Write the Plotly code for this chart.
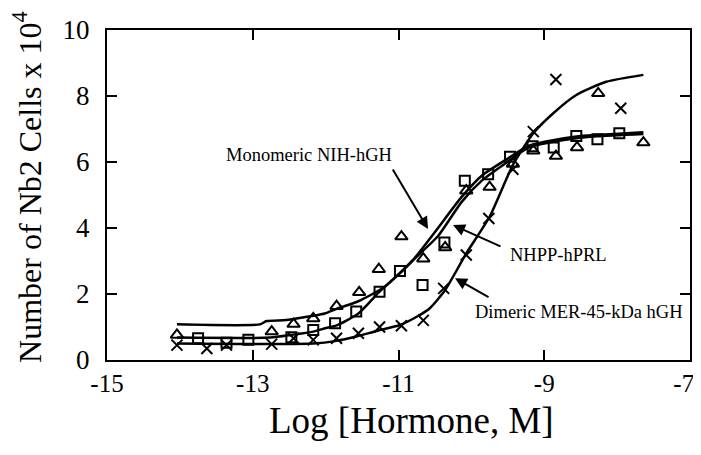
import plotly.graph_objects as go

# measured points (log M, cells x 1e4)
mono_x = [-14.04, -12.74, -12.44, -12.17, -11.85, -11.54, -11.27, -10.96, -10.66, -10.36,
          -10.07, -9.75, -9.43, -9.15, -8.84, -8.55, -8.26, -7.64]
mono_y = [0.76, 0.86, 1.09, 1.26, 1.63, 2.05, 2.75, 3.74, 3.07, 3.41,
          5.13, 5.24, 5.94, 6.34, 6.18, 6.44, 8.08, 6.59]

prl_x = [-13.75, -13.36, -13.06, -12.47, -12.17, -11.87, -11.58, -11.26, -10.98, -10.67,
         -10.37, -10.09, -9.77, -9.47, -9.16, -8.87, -8.56, -8.27, -7.97]
prl_y = [0.66, 0.52, 0.61, 0.69, 0.91, 1.11, 1.47, 2.07, 2.70, 2.27,
         3.56, 5.43, 5.63, 6.16, 6.48, 6.44, 6.79, 6.69, 6.87]

dim_x = [-14.04, -13.63, -13.36, -12.74, -12.44, -12.17, -11.85, -11.55, -11.26, -10.96,
         -10.66, -10.38, -10.07, -9.76, -9.43, -9.15, -8.84, -7.95]
dim_y = [0.45, 0.35, 0.45, 0.48, 0.66, 0.61, 0.66, 0.81, 1.00, 1.04,
         1.20, 2.17, 3.18, 4.29, 5.78, 6.92, 8.50, 7.63]

# fitted curves
mono_fit_x = [-14.04, -12.90, -12.81, -12.54, -12.17, -12.01, -11.85, -11.55, -11.19, -10.82,
              -10.51, -10.13, -9.85, -9.54, -9.20, -8.56, -8.28, -7.64]
mono_fit_y = [1.08, 1.08, 1.18, 1.21, 1.34, 1.41, 1.55, 1.78, 2.22, 2.98,
              3.85, 4.95, 5.60, 6.05, 6.50, 6.77, 6.82, 6.90]

prl_fit_x = [-14.04, -12.76, -12.47, -12.17, -12.01, -11.85, -11.55, -11.26, -10.96, -10.80,
             -10.46, -10.13, -9.85, -9.54, -9.20, -8.56, -8.28, -7.64]
prl_fit_y = [0.68, 0.68, 0.76, 0.86, 0.96, 1.05, 1.41, 2.07, 2.68, 3.03,
             3.75, 4.80, 5.45, 5.95, 6.45, 6.72, 6.78, 6.85]

dim_fit_x = [-14.04, -12.17, -11.85, -11.58, -11.30, -10.98, -10.75, -10.57, -10.36, -10.07,
             -9.75, -9.43, -9.15, -8.88, -8.56, -8.15, -7.64]
dim_fit_y = [0.50, 0.50, 0.58, 0.71, 0.88, 1.06, 1.31, 1.57, 2.12, 3.23,
             4.34, 5.91, 6.87, 7.47, 8.03, 8.43, 8.64]

x_ticks = [-15, -13, -11, -9, -7]
# last label padded so it stays inside the page edge
x_tick_text = ["-15", "-13", "-11", "-9", "-7\u00a0\u00a0"]
y_ticks = [0, 2, 4, 6, 8, 10]

font = "Liberation Serif, Times New Roman, serif"

fig = go.Figure()
for fx, fy in [(mono_fit_x, mono_fit_y), (prl_fit_x, prl_fit_y), (dim_fit_x, dim_fit_y)]:
    fig.add_trace(go.Scatter(x=fx, y=fy, mode="lines", line=dict(color="black", width=2.5, shape="spline", smoothing=0.6),
                             hoverinfo="skip"))

mk = dict(color="black", size=10, line=dict(color="black", width=2))
fig.add_trace(go.Scatter(x=mono_x, y=mono_y, mode="markers", name="Monomeric NIH-hGH",
                         marker=dict(mk, symbol="triangle-up-open", size=11)))
fig.add_trace(go.Scatter(x=prl_x, y=prl_y, mode="markers", name="NHPP-hPRL",
                         marker=dict(mk, symbol="square-open")))
fig.add_trace(go.Scatter(x=dim_x, y=dim_y, mode="markers", name="Dimeric MER-45-kDa hGH",
                         marker=dict(mk, symbol="x-thin-open", size=11)))

labels = [
    ("Monomeric NIH-hGH", -12.23, 6.21, (-10.595, 3.97), (-11.09, 5.82)),
    ("NHPP-hPRL", -8.81, 3.18, (-10.252, 4.09), (-9.58, 3.42)),
    ("Dimeric MER-45-kDa hGH", -8.52, 1.45, (-10.225, 2.48), (-9.744, 1.88)),
]
for txt, tx, ty, tip, tail in labels:
    fig.add_annotation(x=tx, y=ty, text=txt, showarrow=False, font=dict(family=font, size=18.5, color="black"))
    fig.add_annotation(x=tip[0], y=tip[1], ax=tail[0], ay=tail[1], axref="x", ayref="y", text="",
                       showarrow=True, arrowhead=2, arrowsize=1.2, arrowwidth=2, arrowcolor="black")

# axis titles
fig.add_annotation(x=0.523, y=-0.182, xref="paper", yref="paper", xanchor="center", yanchor="middle",
                   text="Log [Hormone, M]", showarrow=False, font=dict(family=font, size=37, color="black"))
fig.add_annotation(x=-0.137, y=0.525, xref="paper", yref="paper", xanchor="center", yanchor="middle",
                   text="Number of Nb2 Cells x 10<sup>4</sup>",
                   showarrow=False, textangle=-90, font=dict(family=font, size=32, color="black"))

axis = dict(showline=True, linecolor="black", linewidth=2, mirror="ticks", ticks="inside",
            ticklen=10, tickwidth=2, tickcolor="black", showgrid=False, zeroline=False, automargin=False,
            ticklabeloverflow="allow")
fig.update_xaxes(axis, range=[-15, -7], tickvals=x_ticks, ticktext=x_tick_text,
                 tickfont=dict(family=font, size=25, color="black"))
fig.update_yaxes(axis, range=[0, 10], tickvals=y_ticks, ticklabelstandoff=10,
                 tickfont=dict(family=font, size=27, color="black"))
# page body has an 8px margin, so the figure is drawn slightly smaller and offset
fig.update_layout(width=693, height=447, margin=dict(l=99, r=11, t=22, b=95),
                  plot_bgcolor="white", paper_bgcolor="white", showlegend=False)
fig.write_html("out.html")
